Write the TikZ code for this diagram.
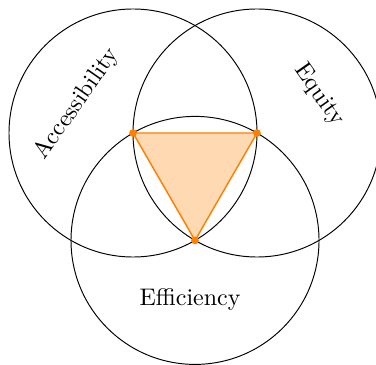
\documentclass[tikz,border=0pt]{standalone}
\begin{document}
\begin{tikzpicture}[x=0.4167pt,y=-0.4167pt,
  venn/.style={draw=black,line width=0.4pt},
  tri/.style={draw=orange,fill=orange!30,line width=0.6pt},
  dot/.style={circle,fill=orange,inner sep=0pt,minimum size=3.2pt},
  lbl/.style={font=\normalsize}]
\useasboundingbox (0,0) rectangle (376,364);
\coordinate (cL) at (133,133);
\coordinate (cR) at (257,133);
\coordinate (cB) at (195,240.4);
\filldraw[tri] (cL) -- (cR) -- (cB) -- cycle;
\draw[venn] (cL) circle (124);
\draw[venn] (cR) circle (124);
\draw[venn] (cB) circle (124);
\node[dot] (pL) at (cL) {};
\node[dot] (pR) at (cR) {};
\node[dot] (pB) at (cB) {};
\node[lbl,rotate=55] (acc) at (77,104) {Accessibility};
\node[lbl,rotate=-55] (eq) at (319,95) {Equity};
\node[lbl] (eff) at (190,299) {Efficiency};
\end{tikzpicture}
\end{document}
